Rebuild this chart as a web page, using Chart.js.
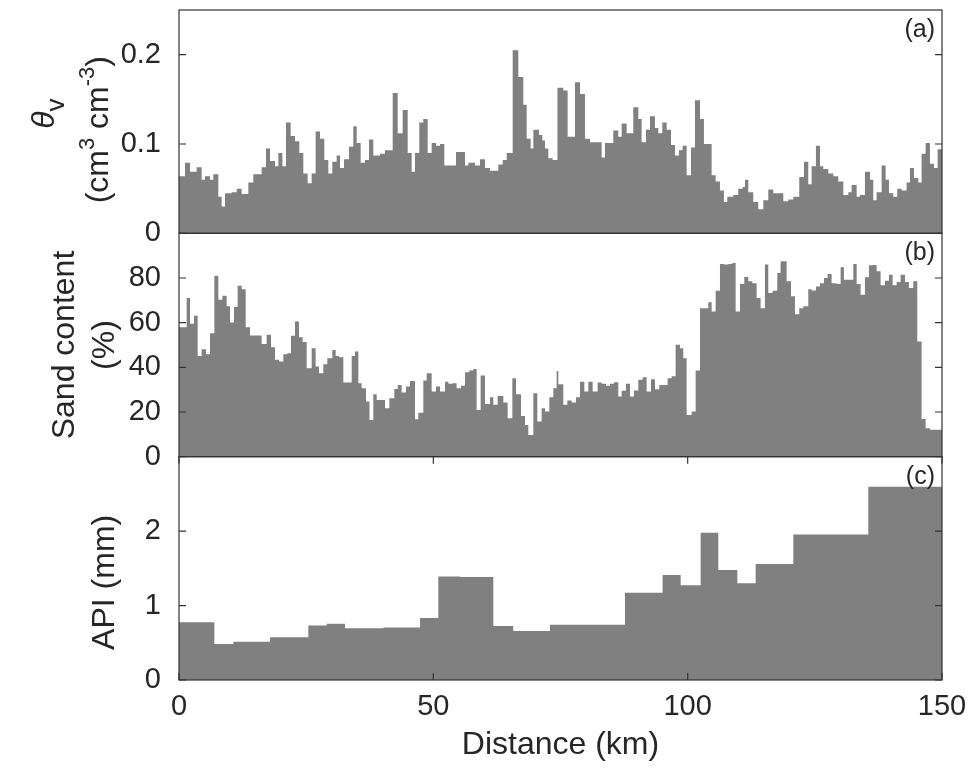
<!DOCTYPE html>
<html><head><meta charset="utf-8">
<script src="https://cdn.jsdelivr.net/npm/chart.js@4.4.1/dist/chart.umd.min.js"></script>
<style>html,body{margin:0;padding:0;background:#fff;}#wrap{width:969px;height:776px;}</style>
</head><body><div id="wrap"><canvas id="c" width="969" height="776"></canvas></div>
<script>
// ---- data ----
const distanceTicks = [0, 50, 100, 150];
const thetaTicks = [0, 0.1, 0.2];
const sandTicks = [0, 20, 40, 60, 80];
const apiTicks = [0, 1, 2];
const endKm = 150;
const xTitle = 'Distance (km)';
const sandTitle = ['Sand content', '(%)'];
const apiTitle = 'API (mm)';
const panelLetters = {yA: '(a)', yB: '(b)', yC: '(c)'};

// soil moisture (cm3 cm-3): segment start (km) and value
const thetaKm = [0,1.18,2.16,3.47,4.45,5.11,6.09,6.75,7.73,8.38,9.04,10.35,11.34,12.32,13.63,14.61,16.25,17.10,17.89,18.87,19.53,20.32,21.03,21.95,22.80,23.65,24.44,25.29,26.08,26.86,27.72,28.57,29.36,30.14,31.00,31.65,32.44,33.42,34.27,34.93,35.71,36.56,37.35,38.20,39.51,40.50,42.01,42.99,43.97,44.96,45.74,46.39,47.24,48.03,48.89,49.67,50.52,51.31,52.16,54.45,56.22,56.88,58.19,59.17,60.15,61.14,62.77,63.63,64.42,65.60,66.71,67.69,68.35,69.13,69.66,70.77,71.43,71.95,72.61,73.46,74.40,75.55,76.40,77.85,78.83,79.81,80.80,83.09,83.74,85.38,86.36,87.02,88.00,89.31,90.30,90.95,91.80,92.59,93.57,94.23,95.01,95.87,96.72,97.50,98.29,99.01,99.80,100.65,101.43,102.42,103.20,104.71,105.50,106.35,107.13,107.79,108.97,109.95,110.80,111.27,111.92,112.90,113.88,114.87,115.85,116.83,118.80,119.78,120.77,121.94,122.86,123.71,124.37,125.22,126.01,126.66,127.65,128.63,129.61,130.60,131.58,132.23,133.22,133.87,134.85,135.84,136.49,137.15,138.13,138.92,139.57,140.42,141.21,142.06,143.04,143.70,144.49,145.34,145.99,146.78,147.63,148.42,149.14];
const thetaVal = [0.064,0.079,0.069,0.074,0.060,0.064,0.060,0.066,0.041,0.030,0.045,0.046,0.050,0.044,0.057,0.066,0.074,0.095,0.081,0.075,0.090,0.075,0.124,0.109,0.103,0.090,0.067,0.056,0.067,0.114,0.106,0.082,0.067,0.080,0.087,0.073,0.083,0.097,0.120,0.101,0.079,0.082,0.105,0.087,0.089,0.093,0.157,0.112,0.138,0.090,0.069,0.090,0.124,0.128,0.090,0.101,0.098,0.100,0.076,0.091,0.076,0.079,0.076,0.083,0.073,0.070,0.077,0.082,0.090,0.205,0.175,0.144,0.106,0.095,0.116,0.110,0.104,0.095,0.084,0.082,0.163,0.160,0.108,0.169,0.156,0.106,0.102,0.085,0.101,0.115,0.108,0.123,0.112,0.141,0.128,0.102,0.116,0.131,0.118,0.112,0.124,0.116,0.099,0.087,0.093,0.098,0.065,0.096,0.149,0.128,0.100,0.065,0.058,0.048,0.035,0.041,0.043,0.050,0.052,0.060,0.046,0.035,0.027,0.037,0.049,0.045,0.036,0.038,0.041,0.063,0.080,0.055,0.075,0.098,0.075,0.072,0.067,0.064,0.058,0.043,0.046,0.054,0.041,0.043,0.069,0.060,0.037,0.046,0.076,0.060,0.045,0.041,0.050,0.048,0.057,0.073,0.062,0.057,0.089,0.101,0.078,0.073,0.094];

// sand content (%)
const sandKm = [0,1.51,2.16,2.95,3.67,4.45,5.31,6.09,6.95,7.73,8.52,9.37,10.03,10.81,11.53,12.32,13.11,13.96,16.25,17.23,18.09,18.87,19.66,20.51,21.30,22.02,22.80,23.59,24.31,25.10,26.08,26.86,27.52,28.37,29.16,30.14,30.80,31.45,32.31,33.95,34.60,35.26,35.91,36.76,37.45,38.20,38.86,40.50,41.35,42.33,42.99,43.77,44.62,45.41,46.39,47.05,48.03,48.69,49.67,50.52,51.31,52.29,52.95,53.80,54.58,55.44,56.22,57.07,57.86,58.51,59.30,60.15,61.14,61.79,62.64,63.76,64.61,65.53,66.25,67.23,68.02,68.67,69.66,70.44,71.29,71.95,72.80,73.59,74.24,74.57,75.55,76.34,77.19,78.04,78.83,79.68,80.47,81.32,82.30,83.09,83.94,84.73,85.51,86.36,87.02,87.87,88.66,89.44,90.30,91.15,91.93,92.79,93.57,94.42,96.06,96.85,97.63,98.49,99.14,99.80,100.78,101.57,102.42,104.06,104.71,105.50,106.35,107.13,107.99,108.77,109.43,110.28,111.13,111.92,112.71,113.56,114.34,115.19,115.85,116.70,117.62,118.27,119.45,120.31,121.09,121.94,122.73,123.71,124.37,125.22,126.01,126.79,127.51,128.30,129.28,130.07,130.72,132.56,133.22,134.00,134.85,135.64,136.49,137.15,137.93,138.79,139.57,140.29,141.08,141.86,142.72,143.50,144.35,145.14,145.99,146.78,147.63];
const sandVal = [58.0,71.0,59.5,63.1,45.1,48.1,45.9,55.3,81.0,70.3,72.1,67.3,60.1,67.0,76.5,75.0,58.0,54.3,50.5,54.6,49.0,43.4,42.6,45.9,46.3,54.1,60.5,53.5,51.3,39.6,48.6,40.4,37.4,41.4,44.1,47.8,45.1,44.5,33.2,45.1,47.1,32.9,30.6,24.7,16.4,28.0,25.4,21.7,26.2,30.3,32.1,28.7,31.4,33.9,16.7,19.7,34.1,37.4,29.2,31.4,29.2,33.6,32.6,32.9,30.6,31.7,37.8,38.6,39.3,20.9,36.3,23.6,26.6,23.2,27.2,24.2,17.2,35.1,28.0,18.2,14.2,9.7,28.4,15.7,21.7,20.2,26.6,30.6,38.4,32.4,23.2,25.1,24.2,26.6,33.6,29.2,33.6,29.2,33.2,32.6,31.7,32.6,33.3,26.9,29.5,32.6,26.9,29.6,34.4,35.6,29.2,34.7,30.2,32.1,35.1,36.0,50.1,48.6,44.1,18.7,20.2,38.6,66.5,69.1,65.0,74.3,86.3,86.0,86.3,86.7,65.0,77.3,80.5,78.5,77.7,71.0,66.5,86.0,73.3,74.3,82.2,87.5,78.5,71.8,63.8,66.5,67.3,75.0,74.4,76.2,77.7,80.0,81.8,77.7,77.3,84.8,79.2,86.3,77.3,72.5,80.3,85.7,85.8,83.0,76.7,78.8,81.5,76.7,78.2,81.5,78.2,75.5,78.5,51.6,16.9,12.7,12.0];

// antecedent precipitation index (mm)
const apiKm = [0,6.95,10.68,17.89,25.42,29.03,32.63,40.17,47.38,50.98,55.24,61.79,65.72,72.93,87.67,95.08,98.62,102.55,106.02,109.76,113.36,120.77,135.51];
const apiVal = [0.777,0.482,0.514,0.573,0.732,0.755,0.695,0.705,0.832,1.391,1.382,0.727,0.659,0.741,1.173,1.409,1.273,1.977,1.477,1.300,1.559,1.955,2.595];

// ---- build step outlines from the arrays ----
function steps(km, val) {
  const pts = [];
  for (let i = 0; i < km.length; i++) {
    const x1 = i + 1 < km.length ? km[i + 1] : endKm;
    pts.push({x: km[i], y: val[i]}, {x: x1, y: val[i]});
  }
  return pts;
}

const FONT = "'Liberation Sans', Arial, Helvetica, sans-serif";
const TXT = '#262626';
const AXC = '#333333';
const BAR = '#808080';
const TICKPX = 29, TITLEPX = 32;

Chart.defaults.font.family = FONT;
Chart.defaults.color = TXT;

function ds(km, val, axis) {
  return {data: steps(km, val), yAxisID: axis, borderWidth: 0, pointRadius: 0,
    backgroundColor: BAR, borderColor: BAR, fill: 'origin', tension: 0};
}
function yAxis(ticks, max) {
  return {
    type: 'linear', position: 'left', stack: 'panels', stackWeight: 1, offset: false,
    min: 0, max: max,
    grid: {display: false, drawTicks: false}, border: {display: false},
    ticks: {font: {size: TICKPX}, color: TXT, padding: 18, autoSkip: false, callback: v => String(v)},
    afterBuildTicks: s => { s.ticks = ticks.map(v => ({value: v})); },
    afterFit: s => { s.width = 179; s.paddingTop = 0; s.paddingBottom = 0; },
    title: {display: false}
  };
}

function rotText(ctx, x, cy, runs) {
  // runs: [text, font, baselineShift]; drawn rotated -90deg, centred on cy
  ctx.save();
  ctx.translate(x, cy);
  ctx.rotate(-Math.PI / 2);
  ctx.textAlign = 'left';
  ctx.textBaseline = 'alphabetic';
  let total = 0;
  runs.forEach(r => { ctx.font = r[1]; total += ctx.measureText(r[0]).width; });
  let u = -total / 2;
  runs.forEach(r => { ctx.font = r[1]; ctx.fillText(r[0], u, r[2]); u += ctx.measureText(r[0]).width; });
  ctx.restore();
}

const decor = {
  id: 'decor',
  afterDatasetsDraw(chart) {
    const ctx = chart.ctx, ca = chart.chartArea, x = chart.scales.x;
    ctx.save();
    ctx.strokeStyle = AXC; ctx.lineWidth = 1.2;
    ['yA', 'yB', 'yC'].forEach(id => {
      const s = chart.scales[id];
      ctx.strokeRect(ca.left, s.top, ca.right - ca.left, s.bottom - s.top);
      s.ticks.forEach(t => {
        const py = s.getPixelForValue(t.value);
        ctx.beginPath();
        ctx.moveTo(ca.left, py); ctx.lineTo(ca.left + 7, py);
        ctx.moveTo(ca.right, py); ctx.lineTo(ca.right - 7, py);
        ctx.stroke();
      });
      ctx.fillStyle = TXT; ctx.font = '25px ' + FONT;
      ctx.textAlign = 'right'; ctx.textBaseline = 'middle';
      ctx.fillText(panelLetters[id], ca.right - 7, s.top + 20);
    });
    const c = chart.scales.yC;
    distanceTicks.forEach(v => {
      const px = x.getPixelForValue(v);
      ctx.beginPath();
      ctx.moveTo(px, c.bottom); ctx.lineTo(px, c.bottom - 7);
      ctx.moveTo(px, c.top); ctx.lineTo(px, c.top + 7);
      ctx.stroke();
    });
    ctx.fillStyle = TXT;
    const a = chart.scales.yA, b = chart.scales.yB;
    const big = TITLEPX + 'px ' + FONT, sup = '22px ' + FONT;
    const aMid = (a.top + a.bottom) / 2;
    rotText(ctx, 0, aMid - 8, [['θ', 'italic ' + TITLEPX + 'px ' + FONT, 54], ['v', '26px ' + FONT, 64]]);
    rotText(ctx, 0, aMid + 8, [['(cm', big, 108], ['3', sup, 94], [' cm', big, 108], ['-3', sup, 94], [')', big, 108]]);
    const bMid = (b.top + b.bottom) / 2;
    rotText(ctx, 0, bMid, [[sandTitle[0], big, 74]]);
    rotText(ctx, 0, bMid, [[sandTitle[1], big, 114]]);
    rotText(ctx, 0, (c.top + c.bottom) / 2 + 14, [[apiTitle, big, 114]]);
    ctx.restore();
  }
};

new Chart(document.getElementById('c'), {
  type: 'line',
  data: {datasets: [ds(apiKm, apiVal, 'yC'), ds(sandKm, sandVal, 'yB'), ds(thetaKm, thetaVal, 'yA')]},
  options: {
    responsive: false, animation: false, devicePixelRatio: 1,
    layout: {padding: {left: 0, right: 27, top: 10, bottom: 0}},
    plugins: {legend: {display: false}, tooltip: {enabled: false}},
    scales: {
      x: {type: 'linear', min: 0, max: endKm,
        grid: {display: false, drawTicks: false}, border: {display: false},
        ticks: {font: {size: TICKPX}, color: TXT, padding: 10, autoSkip: false},
        afterBuildTicks: s => { s.ticks = distanceTicks.map(v => ({value: v})); },
        afterFit: s => { s.height = 96; s.paddingLeft = 0; s.paddingRight = 0; },
        title: {display: true, text: xTitle, font: {size: TITLEPX, lineHeight: 1.2}, color: TXT, padding: {top: 0, bottom: 12}}
      },
      yC: yAxis(apiTicks, 3), yB: yAxis(sandTicks, 100), yA: yAxis(thetaTicks, 0.25)
    }
  },
  plugins: [decor]
});
</script></body></html>
